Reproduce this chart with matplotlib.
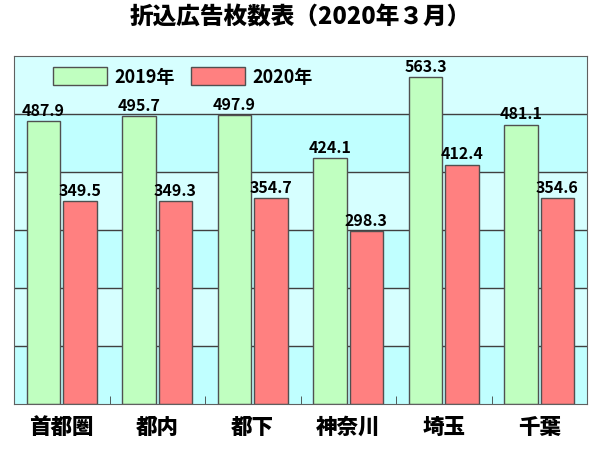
import numpy as np
import matplotlib.pyplot as plt

plt.rcParams['font.family'] = ['Noto Sans CJK JP', 'DejaVu Sans']

# データ
areas = ['首都圏', '都内', '都下', '神奈川', '埼玉', '千葉']
v2019 = [487.9, 495.7, 497.9, 424.1, 563.3, 481.1]
v2020 = [349.5, 349.3, 354.7, 298.3, 412.4, 354.6]
labels_2019 = ['487.9', '495.7', '497.9', '424.1', '563.3', '481.1']
labels_2020 = ['349.5', '349.3', '354.7', '298.3', '412.4', '354.6']

fig = plt.figure(figsize=(6, 4.6), dpi=100)
ax = fig.add_axes([14/600, 55/460, 573/600, 348/460])

# 背景の帯
for i, lo in enumerate(range(0, 600, 100)):
    c = '#c0ffff' if i % 2 == 0 else '#d6ffff'
    ax.axhspan(lo, lo + 100, color=c, zorder=0, lw=0)
for y in range(100, 600, 100):
    ax.axhline(y, color='#404040', lw=1, zorder=1)

x = np.arange(len(areas))
w = 0.35
ax.bar(x - 0.19, v2019, w, color='#c0ffc0', edgecolor='#505050', lw=1, zorder=2, label='2019年')
ax.bar(x + 0.19, v2020, w, color='#ff8080', edgecolor='#505050', lw=1, zorder=2, label='2020年')

for xi, v, t in zip(x - 0.19, v2019, labels_2019):
    ax.text(xi, v + 6, t, ha='center', va='bottom', fontsize=11.5, fontweight='bold', zorder=3)
for xi, v, t in zip(x + 0.19, v2020, labels_2020):
    ax.text(xi, v + 6, t, ha='center', va='bottom', fontsize=11.5, fontweight='bold', zorder=3)

ax.set_xlim(-0.5, len(areas) - 0.5)
ax.set_ylim(0, 600)
ax.set_yticks([])
ax.set_xticks(x)
ax.set_xticklabels(areas, fontsize=15.5, fontweight='black')
ax.tick_params(axis='x', length=0, pad=8)
ax.set_xticks(np.arange(0.5, len(areas) - 0.5, 1), minor=True)
ax.tick_params(axis='x', which='minor', direction='in', length=6, color='#404040')
for s in ax.spines.values():
    s.set_color('#606060')

leg = ax.legend(loc='upper left', bbox_to_anchor=(0.04, 1.015), ncol=2, frameon=False,
                handlelength=3.0, handleheight=1.1, columnspacing=0.9, handletextpad=0.4,
                prop={'size': 13, 'weight': 'bold'})
for p in leg.get_patches():
    p.set_edgecolor('#505050')

fig.suptitle('折込広告枚数表（2020年３月）', y=0.99, fontsize=17, fontweight='black')

fig.savefig('out.png', dpi=100)
